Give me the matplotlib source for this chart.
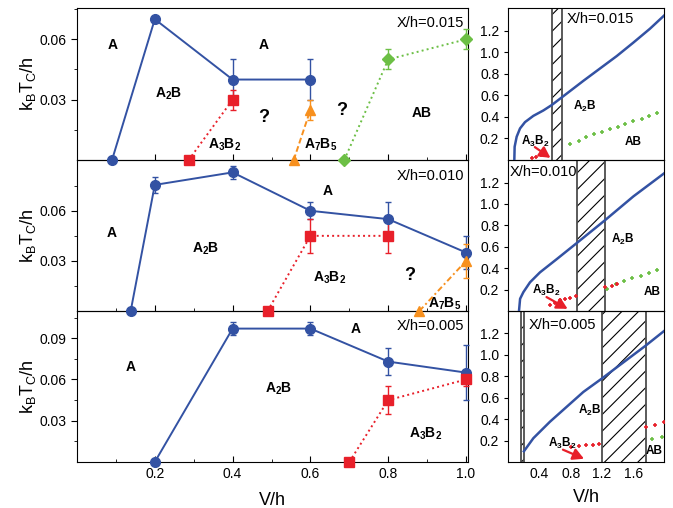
import numpy as np
import matplotlib
matplotlib.use("Agg")
import matplotlib.pyplot as plt

plt.rcParams['font.family'] = ['Liberation Sans', 'DejaVu Sans']
plt.rcParams['mathtext.fontset'] = 'custom'
plt.rcParams['mathtext.rm'] = 'Liberation Sans'
plt.rcParams['mathtext.bf'] = 'Liberation Sans:bold'
plt.rcParams['mathtext.it'] = 'Liberation Sans:italic'
plt.rcParams['hatch.linewidth'] = 0.8

BLUE = '#3352a3'
RED = '#e8202a'
ORANGE = '#f7901e'
GREEN = '#6cbf45'

# ---- left: k_B T_C / h versus V/h (QMC points) ----
# X/h = 0.015
v15_a2b = [0.09, 0.2, 0.4, 0.6]
t15_a2b = [0.0, 0.070, 0.040, 0.040]
e15_a2b = [0.0, 0.001, 0.010, 0.010]
v15_a3b2 = [0.287, 0.4]
t15_a3b2 = [0.0, 0.030]
e15_a3b2 = [0.0, 0.005]
v15_a7b5 = [0.557, 0.6]
t15_a7b5 = [0.0, 0.025]
e15_a7b5 = [0.0, 0.005]
v15_ab = [0.687, 0.8, 1.0]
t15_ab = [0.0, 0.050, 0.060]
e15_ab = [0.0, 0.005, 0.005]

# X/h = 0.010
v10_a2b = [0.138, 0.2, 0.4, 0.6, 0.8, 1.0]
t10_a2b = [0.0, 0.0755, 0.083, 0.060, 0.055, 0.035]
e10_a2b = [0.0, 0.005, 0.004, 0.005, 0.010, 0.010]
v10_a3b2 = [0.49, 0.6, 0.8]
t10_a3b2 = [0.0, 0.045, 0.045]
e10_a3b2 = [0.0, 0.010, 0.010]
v10_a7b5 = [0.88, 1.0]
t10_a7b5 = [0.0, 0.030]
e10_a7b5 = [0.0, 0.010]

# X/h = 0.005
v05_a2b = [0.2, 0.4, 0.6, 0.8, 1.0]
t05_a2b = [0.0, 0.097, 0.097, 0.073, 0.065]
e05_a2b = [0.0, 0.005, 0.005, 0.010, 0.020]
v05_a3b2 = [0.7, 0.8, 1.0]
t05_a3b2 = [0.0, 0.045, 0.060]
e05_a3b2 = [0.0, 0.010, 0.005]

# ---- right: mean-field phase boundaries ----
mf15_x = [0.077, 0.081, 0.107, 0.15, 0.214, 0.321, 0.449, 0.556, 0.692, 0.962, 1.176, 1.39, 1.603, 1.816, 2.0]
mf15_y = [0.0, 0.123, 0.216, 0.293, 0.352, 0.41, 0.46, 0.51, 0.585, 0.735, 0.85, 0.965, 1.09, 1.219, 1.343]
mf15_ab_x = [0.79, 0.90, 1.0, 1.1, 1.2, 1.3, 1.4, 1.5, 1.6, 1.71, 1.8, 1.9]
mf15_ab_y = [0.148, 0.179, 0.216, 0.238, 0.262, 0.284, 0.309, 0.333, 0.364, 0.380, 0.407, 0.432]
mf15_a3_x = [0.30, 0.36, 0.42]
mf15_a3_y = [0.02, 0.03, 0.045]
band15 = [(0.556, 0.692)]

mf10_x = [0.137, 0.151, 0.193, 0.278, 0.406, 0.62, 0.885, 1.24, 1.603, 2.0]
mf10_y = [0.0, 0.114, 0.176, 0.268, 0.361, 0.484, 0.639, 0.848, 1.07, 1.287]
mf10_ab_x = [1.27, 1.38, 1.48, 1.59, 1.70, 1.80, 1.90]
mf10_ab_y = [0.207, 0.25, 0.28, 0.31, 0.33, 0.355, 0.385]
mf10_a3_x = [0.535, 0.60, 0.66, 0.727, 0.79, 0.868, 1.24, 1.33, 1.39]
mf10_a3_y = [0.052, 0.077, 0.10, 0.115, 0.12, 0.138, 0.222, 0.237, 0.25]
band10 = [(0.885, 1.24)]

mf05_x = [0.2, 0.321, 0.534, 0.748, 0.962, 1.197, 1.76, 2.0]
mf05_y = [0.10, 0.222, 0.376, 0.515, 0.654, 0.778, 1.086, 1.225]
mf05_ab_x = [1.84, 1.97]
mf05_ab_y = [0.213, 0.237]
mf05_a3_x = [0.81, 0.90, 1.0, 1.08, 1.167, 1.77, 1.88, 2.0]
mf05_a3_y = [0.144, 0.150, 0.157, 0.163, 0.169, 0.324, 0.345, 0.37]
band05 = [(0.16, 0.2), (1.197, 1.76)]


fig = plt.figure(figsize=(6.73, 5.08), dpi=100)

L0, L1 = 0.1144, 0.6954
R0, R1 = 0.7553, 0.9871
rows = [(0.685, 0.984), (0.3878, 0.685), (0.0906, 0.3878)]


def series(ax, v, t, e, color, marker, ls, ms=7):
    ax.plot(v, t, color=color, ls=ls, lw=1.4, marker=marker, ms=ms,
            clip_on=False, zorder=4)
    v, t, e = np.array(v), np.array(t), np.array(e)
    m = e > 0
    ax.errorbar(v[m], t[m], yerr=e[m], fmt='none', ecolor=color, elinewidth=1,
                capsize=2.5, capthick=1, zorder=3, clip_on=False)


def lab(ax, x, y, s, size=10):
    ax.text(x, y, s, fontsize=size, fontweight='bold', ha='center', va='center')


def left_axes(r, ymax, yt):
    ax = fig.add_axes([L0, rows[r][0], L1 - L0, rows[r][1] - rows[r][0]], zorder=3 - r)
    ax.patch.set_visible(False)
    ax.set_xlim(0, 1.005)
    ax.set_ylim(0, ymax)
    ax.set_xticks([0.2, 0.4, 0.6, 0.8, 1.0])
    ax.set_xticks(np.arange(0.1, 1.0, 0.2), minor=True)
    ax.set_yticks(yt)
    ax.set_yticks(np.arange(0.015, ymax, 0.03), minor=True)
    ax.tick_params(axis='x', which='both', direction='in', labelsize=10)
    ax.tick_params(axis='y', which='both', direction='out', labelsize=10)
    ax.tick_params(which='major', length=4)
    ax.tick_params(which='minor', length=2.5)
    ax.set_ylabel(r'k$_\mathrm{B}$T$_\mathrm{C}$/h', fontsize=13, labelpad=1)
    if r < 2:
        ax.tick_params(axis='x', labelbottom=False)
    return ax


def right_axes(r):
    ax = fig.add_axes([R0, rows[r][0], R1 - R0, rows[r][1] - rows[r][0]], zorder=3 - r)
    ax.patch.set_visible(False)
    ax.set_xlim(0, 2.0)
    ax.set_ylim(0, 1.41)
    ax.set_xticks([0.4, 0.8, 1.2, 1.6])
    ax.set_yticks([0.2, 0.4, 0.6, 0.8, 1.0, 1.2])
    ax.tick_params(axis='x', direction='in', length=0, labelsize=10)
    ax.tick_params(axis='y', direction='out', length=3, labelsize=10)
    ax.yaxis.set_major_formatter(matplotlib.ticker.FormatStrFormatter('%.1f'))
    if r < 2:
        ax.tick_params(axis='x', labelbottom=False)
    return ax


def right_panel(ax, bands, cx, cy, abx, aby, a3x, a3y, arrow):
    for b0, b1 in bands:
        ax.axvspan(b0, b1, facecolor='none', edgecolor='black', lw=0, hatch='//', zorder=1)
        ax.axvline(b0, color='0.3', lw=1.3, zorder=2)
        ax.axvline(b1, color='0.3', lw=1.3, zorder=2)
    ax.plot(cx, cy, color=BLUE, lw=1.8, zorder=3)
    ax.plot(abx, aby, ls='none', marker='+', ms=3, mew=1.2, color=GREEN, zorder=3)
    ax.plot(a3x, a3y, ls='none', marker='+', ms=3, mew=1.2, color=RED, zorder=3)
    ax.annotate('', xy=arrow[1], xytext=arrow[0],
                arrowprops=dict(arrowstyle='-|>,head_length=0.65,head_width=0.35',
                                color=RED, lw=1.6, shrinkA=0, shrinkB=0), zorder=4)


# ---- top row, X/h = 0.015 ----
ax = left_axes(0, 0.0755, [0.03, 0.06])
series(ax, v15_a2b, t15_a2b, e15_a2b, BLUE, 'o', '-')
series(ax, v15_a3b2, t15_a3b2, e15_a3b2, RED, 's', ':')
series(ax, v15_a7b5, t15_a7b5, e15_a7b5, ORANGE, '^', (0, (3, 1.5)))
series(ax, v15_ab, t15_ab, e15_ab, GREEN, 'D', ':', ms=6.5)
lab(ax, 0.092, 0.057, 'A')
lab(ax, 0.48, 0.057, 'A')
lab(ax, 0.236, 0.033, r'A$_\mathbf{2}$B')
lab(ax, 0.48, 0.021, '?', 13)
lab(ax, 0.38, 0.0075, r'A$_\mathbf{3}$B$_\mathbf{2}$')
lab(ax, 0.625, 0.0075, r'A$_\mathbf{7}$B$_\mathbf{5}$')
lab(ax, 0.68, 0.0245, '?', 13)
lab(ax, 0.887, 0.0235, 'AB')
ax.text(0.995, 0.068, 'X/h=0.015', fontsize=10.5, ha='right', va='center')

ax = right_axes(0)
right_panel(ax, band15, mf15_x, mf15_y, mf15_ab_x, mf15_ab_y, mf15_a3_x, mf15_a3_y,
            ((0.34, 0.12), (0.54, 0.02)))
ax.text(0.75, 1.31, 'X/h=0.015', fontsize=10.5, ha='left', va='center')
lab(ax, 0.98, 0.494, r'A$_\mathbf{2}$B', 8.5)
lab(ax, 0.34, 0.17, r'A$_\mathbf{3}$B$_\mathbf{2}$', 8.5)
lab(ax, 1.6, 0.17, 'AB', 8.5)

# ---- middle row, X/h = 0.010 ----
ax = left_axes(1, 0.0904, [0.03, 0.06])
series(ax, v10_a2b, t10_a2b, e10_a2b, BLUE, 'o', '-')
series(ax, v10_a3b2, t10_a3b2, e10_a3b2, RED, 's', ':')
series(ax, v10_a7b5, t10_a7b5, e10_a7b5, ORANGE, '^', (0, (3, 1.5, 1, 1.5)))
lab(ax, 0.09, 0.047, 'A')
lab(ax, 0.33, 0.037, r'A$_\mathbf{2}$B')
lab(ax, 0.643, 0.072, 'A')
lab(ax, 0.65, 0.0196, r'A$_\mathbf{3}$B$_\mathbf{2}$')
lab(ax, 0.856, 0.0214, '?', 13)
lab(ax, 0.946, 0.0045, r'A$_\mathbf{7}$B$_\mathbf{5}$')
ax.text(0.995, 0.081, 'X/h=0.010', fontsize=10.5, ha='right', va='center')

ax = right_axes(1)
right_panel(ax, band10, mf10_x, mf10_y, mf10_ab_x, mf10_ab_y, mf10_a3_x, mf10_a3_y,
            ((0.49, 0.13), (0.76, 0.02)))
ax.text(0.02, 1.296, 'X/h=0.010', fontsize=10.5, ha='left', va='center')
lab(ax, 1.47, 0.669, r'A$_\mathbf{2}$B', 8.5)
lab(ax, 0.49, 0.19, r'A$_\mathbf{3}$B$_\mathbf{2}$', 8.5)
lab(ax, 1.84, 0.18, 'AB', 8.5)

# ---- bottom row, X/h = 0.005 ----
ax = left_axes(2, 0.1098, [0.03, 0.06, 0.09])
series(ax, v05_a2b, t05_a2b, e05_a2b, BLUE, 'o', '-')
series(ax, v05_a3b2, t05_a3b2, e05_a3b2, RED, 's', ':')
lab(ax, 0.138, 0.069, 'A')
lab(ax, 0.518, 0.053, r'A$_\mathbf{2}$B')
lab(ax, 0.715, 0.0965, 'A')
lab(ax, 0.895, 0.0208, r'A$_\mathbf{3}$B$_\mathbf{2}$')
ax.text(0.995, 0.099, 'X/h=0.005', fontsize=10.5, ha='right', va='center')
ax.set_xlabel('V/h', fontsize=13, labelpad=8)

ax = right_axes(2)
right_panel(ax, band05, mf05_x, mf05_y, mf05_ab_x, mf05_ab_y, mf05_a3_x, mf05_a3_y,
            ((0.70, 0.115), (0.97, 0.03)))
ax.text(0.26, 1.28, 'X/h=0.005', fontsize=10.5, ha='left', va='center')
lab(ax, 1.04, 0.484, r'A$_\mathbf{2}$B', 8.5)
lab(ax, 0.685, 0.176, r'A$_\mathbf{3}$B$_\mathbf{2}$', 8.5)
lab(ax, 1.87, 0.1, 'AB', 8.5)
ax.set_xlabel('V/h', fontsize=13, labelpad=6)

fig.savefig('out.png', dpi=100)
